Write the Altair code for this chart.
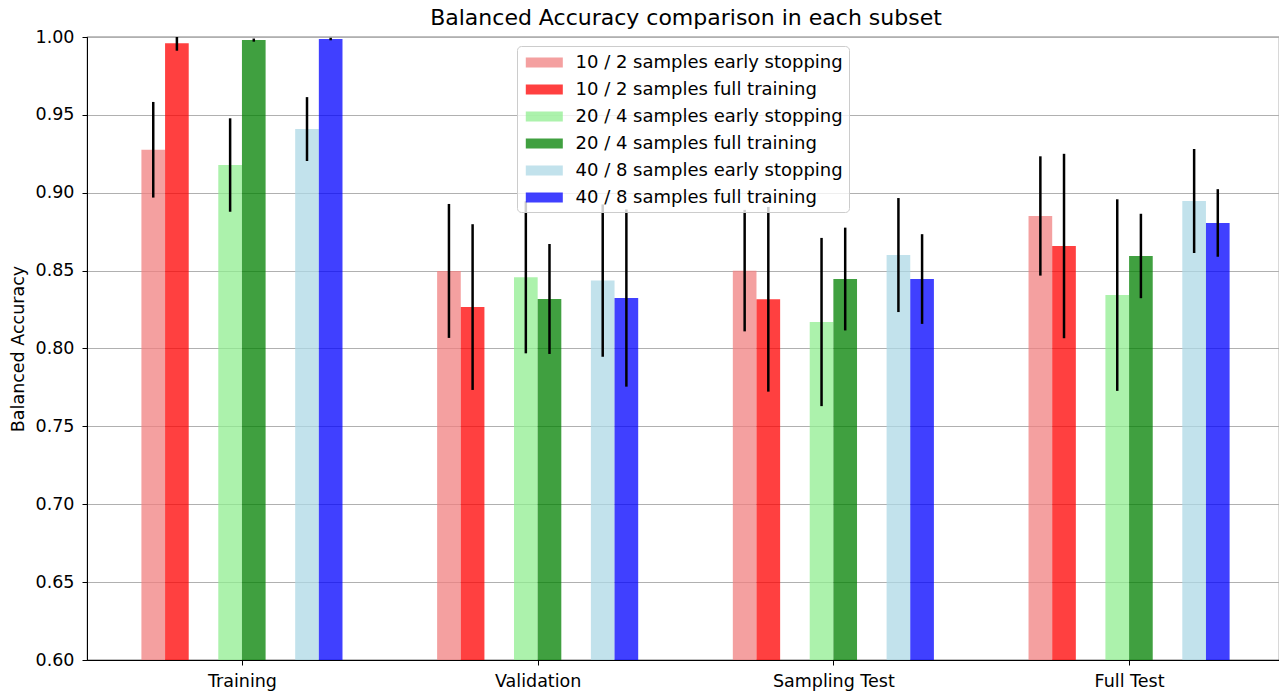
import json
import altair as alt
import pandas as pd

groups = ["Training", "Validation", "Sampling Test", "Full Test"]
series = [
    "10 / 2 samples early stopping",
    "10 / 2 samples full training",
    "20 / 4 samples early stopping",
    "20 / 4 samples full training",
    "40 / 8 samples early stopping",
    "40 / 8 samples full training",
]
colors = ["#f08080", "#ff0000", "#90ee90", "#008000", "#add8e6", "#0000ff"]

mean_10_es = [0.9276, 0.8498, 0.8500, 0.8851]
mean_10_ft = [0.9960, 0.8266, 0.8316, 0.8658]
mean_20_es = [0.9178, 0.8457, 0.8170, 0.8343]
mean_20_ft = [0.9980, 0.8318, 0.8446, 0.8594]
mean_40_es = [0.9409, 0.8436, 0.8600, 0.8947]
mean_40_ft = [0.9987, 0.8324, 0.8446, 0.8806]

err_10_es = [0.0307, 0.0430, 0.0390, 0.0383]
err_10_ft = [0.0048, 0.0532, 0.0593, 0.0592]
err_20_es = [0.0300, 0.0488, 0.0540, 0.0615]
err_20_ft = [0.0010, 0.0353, 0.0330, 0.0271]
err_40_es = [0.0205, 0.0489, 0.0366, 0.0334]
err_40_ft = [0.0008, 0.0569, 0.0288, 0.0217]

means = [mean_10_es, mean_10_ft, mean_20_es, mean_20_ft, mean_40_es, mean_40_ft]
errs = [err_10_es, err_10_ft, err_20_es, err_20_ft, err_40_es, err_40_ft]

rows = []
for si, s in enumerate(series):
    for gi, g in enumerate(groups):
        rows.append({"group": g, "series": s, "gi": gi, "si": si,
                     "mean": means[si][gi], "err": errs[si][gi]})
df = pd.DataFrame(rows)

BAR_W = 0.08
PAIR_STEP = 0.26

base = alt.Chart(df).transform_calculate(
    pos=f"datum.gi + (floor(datum.si/2) - 1) * {PAIR_STEP} + (datum.si % 2 - 0.5) * {BAR_W}"
).transform_calculate(
    left=f"datum.pos - {BAR_W/2}",
    right=f"datum.pos + {BAR_W/2}",
    lo="datum.mean - datum.err",
    hi="datum.mean + datum.err",
    zero="0.6",
)

xscale = alt.Scale(domain=[-0.524, 3.507], nice=False, zero=False)
yscale = alt.Scale(domain=[0.6, 1.0], nice=False, zero=False)

label_expr = json.dumps(groups) + "[datum.value]"

xaxis = alt.Axis(values=[0, 1, 2, 3], labelExpr=label_expr, grid=False, title=None,
                 tickSize=5, labelPadding=7, labelFontSize=17.5, labelFont="DejaVu Sans",
                 labelColor="black", tickColor="black", domainColor="black")
yaxis = alt.Axis(values=[0.6, 0.65, 0.7, 0.75, 0.8, 0.85, 0.9, 0.95, 1.0], format=".2f",
                 title="Balanced Accuracy", grid=True, gridColor="#b0b0b0", gridWidth=1,
                 tickSize=5, labelPadding=8, labelFontSize=17.5, labelFont="DejaVu Sans",
                 labelColor="black", tickColor="black", domainColor="black",
                 titleFontSize=17.5, titleFont="DejaVu Sans", titleFontWeight="normal",
                 titleColor="black", titleX=-69, titleY=311.5, titleAngle=270,
                 titleAlign="center", titleBaseline="middle")

legend = alt.Legend(
    orient="none", legendX=430, legendY=9, title=None,
    symbolType="M-0.72,-0.467L2.74,-0.467L2.74,0.467L-0.72,0.467Z", symbolSize=458,
    symbolOpacity=0.75, symbolStrokeWidth=0,
    labelFontSize=18, labelFont="DejaVu Sans", labelColor="black", labelOffset=31,
    labelLimit=0, rowPadding=7.0, padding=5.5,
    fillColor="rgba(255,255,255,0.8)", strokeColor="#cccccc", cornerRadius=4,
)

bars = base.mark_bar(opacity=0.75, clip=True).encode(
    x=alt.X("left:Q", scale=xscale, axis=xaxis),
    x2="right:Q",
    y=alt.Y("mean:Q", scale=yscale, axis=yaxis),
    y2="zero:Q",
    color=alt.Color("series:N", scale=alt.Scale(domain=series, range=colors), legend=legend),
)

errbars = base.mark_rule(color="black", strokeWidth=2.5, clip=True).encode(
    x=alt.X("pos:Q", scale=xscale),
    y=alt.Y("lo:Q", scale=yscale),
    y2="hi:Q",
)

chart = alt.layer(bars, errbars).properties(
    width=1192, height=623,
    title=alt.TitleParams("Balanced Accuracy comparison in each subset", fontSize=22,
                          font="DejaVu Sans", fontWeight="normal", color="black",
                          anchor="middle", offset=-2, dx=3),
    autosize=alt.AutoSizeParams(type="none"),
    padding={"left": 79, "top": 29, "right": 0, "bottom": 34},
).configure_view(stroke="black", strokeWidth=1.1)

chart.save("out.html", embed_options={"renderer": "svg", "actions": False})
